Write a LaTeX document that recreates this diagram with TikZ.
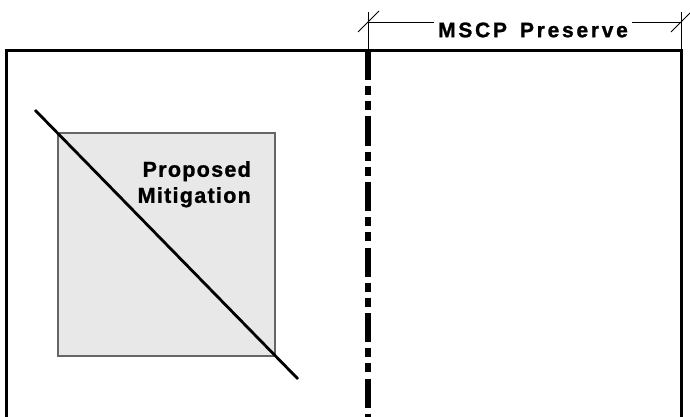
\documentclass[tikz,border=0pt]{standalone}
\usepackage{fontspec}
\setmainfont{Liberation Sans}
\newfontfamily\lblfont{Liberation Sans Bold}[LetterSpace=6,FakeBold=1.2]
\newfontfamily\dimfont{Liberation Sans Bold}[LetterSpace=13,FakeBold=1.2]
\usetikzlibrary{positioning}
\begin{document}
\begin{tikzpicture}
  [
    x=1pt, y=-1pt,
    wall/.style={draw=black, line width=3pt},
    dim/.style={draw=black, line width=0.9pt},
    cut/.style={draw=black, line width=6pt,
      dash pattern=on 29pt off 6pt on 9pt off 6pt on 9pt off 6.5pt},
    lbl/.style={inner sep=0pt, align=right,
      font=\lblfont\fontsize{21.5}{26}\selectfont}
  ]
  \useasboundingbox (0,0) rectangle (690,417);

  \coordinate (w1) at (6,420);
  \coordinate (w2) at (6,51);
  \coordinate (w3) at (681,51);
  \coordinate (w4) at (681,420);
  \coordinate (p1) at (368,51);
  \coordinate (p2) at (368,420);

  \coordinate (e1) at (368,12);
  \coordinate (e2) at (681,12);
  \coordinate (d1) at (368,22);
  \coordinate (d2) at (681,22);

  \coordinate (m1) at (58,133);
  \coordinate (m2) at (275,356);
  \coordinate (s1) at (35,110);
  \coordinate (s2) at (298,379);

  \fill [black!9, draw=black!60, line width=1.2pt] (m1) rectangle (m2);
  \draw [line width=2.8pt] (s1) -- (s2);

  \draw [wall, line join=miter] (w1) -- (w2) -- (w3) -- (w4);
  \draw [cut] (p1) -- (p2);

  \draw [dim] (e1) -- (p1);
  \draw [dim] (e2) -- (w3);
  \draw [dim] (d1) ++(-10,10) -- ++(21,-21);
  \draw [dim] (d2) ++(-10,10) -- ++(21,-21);

  \node (mscp) at (533,30) [lbl, inner xsep=4pt,
    font=\dimfont\fontsize{21}{24}\selectfont] {MSCP\hspace{13pt}Preserve};
  \draw [dim] (d1) -- (d1 -| mscp.west);
  \draw [dim] (d2) -- (d2 -| mscp.east);

  \node (mit) at (251,161) [lbl, anchor=north east] {Proposed\\Mitigation};
\end{tikzpicture}
\end{document}
